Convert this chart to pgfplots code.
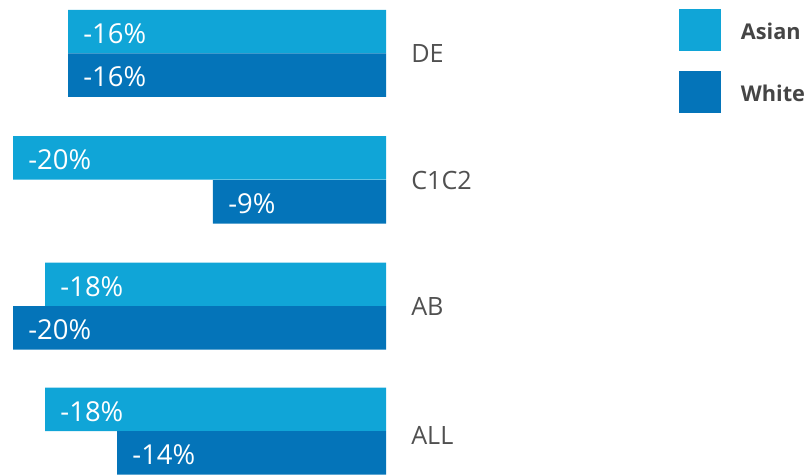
\documentclass[border=0pt]{standalone}
\usepackage{pgfplots}
\pgfplotsset{compat=1.18}
\usepackage{fontspec}
\setmainfont{Open Sans}
\definecolor{asian}{HTML}{10A5D7}
\definecolor{whitec}{HTML}{0474B9}
\definecolor{cattext}{HTML}{505050}
\definecolor{legtext}{HTML}{454545}
\begin{document}
\begin{tikzpicture}
\begin{axis}[
  scale only axis, width=608.25pt, height=356.25pt,
  xmin=-20.697, xmax=22.788, ymin=0, ymax=475, y dir=reverse,
  axis line style={draw=none}, major tick length=0pt,
  xtick=\empty,
  ytick={53.5,181,307,436}, yticklabels={DE,C1C2,AB,ALL},
  yticklabel style={anchor=west, inner sep=0pt, xshift=308.25pt, font=\fontsize{18.9}{22}\selectfont, text=cattext},
  xbar, bar width=43.5, bar shift=0pt,
  nodes near coords, point meta=explicit symbolic,
  every node near coord/.append style={anchor=west, inner sep=0pt, xshift=11.25pt, yshift=-1.4pt, text=white, font=\fontsize{20.6}{24}\selectfont},
  legend style={at={(0.8372,0.98105)}, anchor=north west, draw=none, fill=none, inner sep=0pt, outer sep=0pt, row sep=15pt, column sep=15pt, nodes={inner sep=0pt, text=legtext, font=\fontsize{16.3}{20}\selectfont\bfseries}},
  legend cell align=left,
]
\addplot[fill=asian, draw=none, legend image code/.code={\fill[asian] (0pt,-13.7pt) rectangle (31.5pt,17.8pt);}]
  coordinates {(-17.05,31.75) [-16\%] (-20,158) [-20\%] (-18.28,284.5) [-18\%] (-18.28,409.5) [-18\%]};
\addlegendentry{Asian}
\addplot[fill=whitec, draw=none, legend image code/.code={\fill[whitec] (0pt,-13.7pt) rectangle (31.5pt,17.8pt);}]
  coordinates {(-17.05,75.25) [-16\%] (-9.28,202) [-9\%] (-20,328) [-20\%] (-14.42,453) [-14\%]};
\addlegendentry{White}
\end{axis}
\end{tikzpicture}
\end{document}
